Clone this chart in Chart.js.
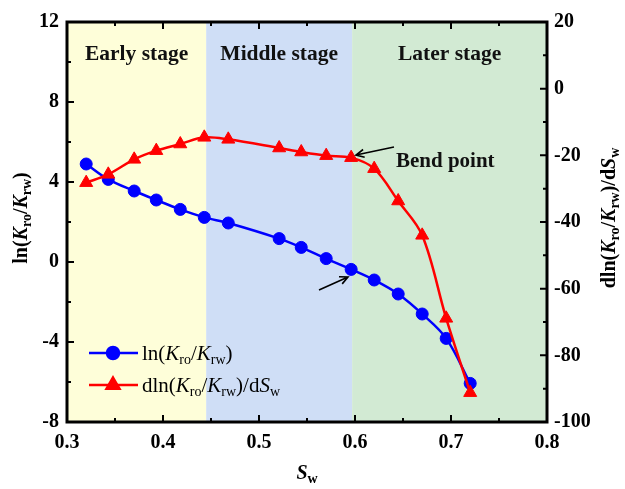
<!DOCTYPE html>
<html lang="en">
<head>
  <meta charset="UTF-8">
  <title>ln(Kro/Krw) vs Sw</title>
  <script src="https://cdn.jsdelivr.net/npm/chart.js"></script>
  <style>
    body { margin: 0; background: #fff; }
    #wrap { width: 625px; height: 489px; }
  </style>
</head>
<body>
  <div id="wrap"><canvas id="chartKr" width="625" height="489"></canvas></div>
  <script>
    // water saturation for each measured point
    const sw = [0.320, 0.343, 0.370, 0.393, 0.418, 0.443, 0.468, 0.521, 0.544, 0.570, 0.596, 0.620, 0.645, 0.670, 0.695, 0.720];
    // ln(Kro/Krw), left axis
    const lnRatio = [4.90, 4.13, 3.55, 3.10, 2.63, 2.23, 1.95, 1.17, 0.73, 0.17, -0.37, -0.90, -1.60, -2.60, -3.82, -6.07];
    // dln(Kro/Krw)/dSw, right axis
    const dlnRatio = [-28.2, -25.7, -21.2, -18.6, -16.6, -14.6, -15.2, -17.8, -19.0, -20.1, -20.7, -24.0, -33.7, -44.0, -68.9, -91.2];

    // stage bands along Sw
    const stageEdges = [0.3, 0.445, 0.597, 0.8];
    const stageNames = ['Early stage', 'Middle stage', 'Later stage'];
    const stageColors = ['#fefed9', '#cfdef6', '#d2ead3'];

    const serif = '"Liberation Serif", "Times New Roman", serif';

    // draws text made of pieces (italic letters, subscripts) centred or left-aligned
    function richText(ctx, parts, x, y, size, bold, angle, align) {
      const fontOf = p => (bold ? 'bold ' : '') + (p.i ? 'italic ' : '') +
        (p.sub ? Math.round(size * 0.68) : size) + 'px ' + serif;
      let total = 0;
      parts.forEach(p => { ctx.font = fontOf(p); p.w = ctx.measureText(p.t).width; total += p.w; });
      ctx.save();
      ctx.translate(x, y);
      ctx.rotate(angle || 0);
      ctx.fillStyle = '#000';
      ctx.textBaseline = 'middle';
      ctx.textAlign = 'left';
      let cx = align === 'left' ? 0 : -total / 2;
      parts.forEach(p => {
        ctx.font = fontOf(p);
        ctx.fillText(p.t, cx, p.sub ? size * 0.28 : 0);
        cx += p.w;
      });
      ctx.restore();
    }

    const lnLabel = [{t: 'ln('}, {t: 'K', i: true}, {t: 'ro', sub: true}, {t: '/'}, {t: 'K', i: true}, {t: 'rw', sub: true}, {t: ')'}];
    const dlnLabel = [{t: 'dln('}, {t: 'K', i: true}, {t: 'ro', sub: true}, {t: '/'}, {t: 'K', i: true}, {t: 'rw', sub: true}, {t: ')/d'}, {t: 'S', i: true}, {t: 'w', sub: true}];
    const swLabel = [{t: 'S', i: true}, {t: 'w', sub: true}];

    function arrow(ctx, x1, y1, x2, y2) {
      const a = Math.atan2(y2 - y1, x2 - x1);
      ctx.save();
      ctx.strokeStyle = '#000';
      ctx.lineWidth = 1.6;
      ctx.beginPath();
      ctx.moveTo(x1, y1);
      ctx.lineTo(x2, y2);
      ctx.moveTo(x2 - 9 * Math.cos(a - 0.45), y2 - 9 * Math.sin(a - 0.45));
      ctx.lineTo(x2, y2);
      ctx.lineTo(x2 - 9 * Math.cos(a + 0.45), y2 - 9 * Math.sin(a + 0.45));
      ctx.stroke();
      ctx.restore();
    }

    const decor = {
      id: 'decor',
      beforeDraw(chart) {
        const {ctx, chartArea: a, scales: {x}} = chart;
        ctx.save();
        ctx.fillStyle = '#fff';
        ctx.fillRect(0, 0, chart.width, chart.height);
        for (let i = 0; i < stageNames.length; i++) {
          const x0 = x.getPixelForValue(stageEdges[i]);
          const x1 = x.getPixelForValue(stageEdges[i + 1]);
          ctx.fillStyle = stageColors[i];
          ctx.fillRect(x0, a.top, x1 - x0, a.bottom - a.top);
        }
        ctx.font = 'bold 21.5px ' + serif;
        ctx.fillStyle = '#111';
        ctx.textAlign = 'center';
        ctx.textBaseline = 'alphabetic';
        for (let i = 0; i < stageNames.length; i++) {
          const mid = (x.getPixelForValue(stageEdges[i]) + x.getPixelForValue(stageEdges[i + 1])) / 2;
          ctx.fillText(stageNames[i], mid, a.top + 38);
        }
        ctx.restore();
      },
      afterDraw(chart) {
        const {ctx, chartArea: a, scales: {x, y, y2}} = chart;
        ctx.save();
        ctx.strokeStyle = '#000';
        // inward ticks
        ctx.lineWidth = 2;
        ctx.beginPath();
        for (let v = 0.3; v <= 0.8001; v += 0.05) {
          const px = x.getPixelForValue(v);
          const len = Math.abs(Math.round(v * 100) % 10) < 0.5 ? 7 : 4;
          ctx.moveTo(px, a.bottom); ctx.lineTo(px, a.bottom - len);
          ctx.moveTo(px, a.top); ctx.lineTo(px, a.top + len);
        }
        for (let v = -8; v <= 12; v += 2) {
          const py = y.getPixelForValue(v);
          ctx.moveTo(a.left, py); ctx.lineTo(a.left + (v % 4 === 0 ? 7 : 4), py);
        }
        for (let v = -100; v <= 20; v += 10) {
          const py = y2.getPixelForValue(v);
          ctx.moveTo(a.right, py); ctx.lineTo(a.right - (v % 20 === 0 ? 7 : 4), py);
        }
        ctx.stroke();
        // frame
        ctx.lineWidth = 3;
        ctx.strokeRect(a.left, a.top, a.right - a.left, a.bottom - a.top);
        ctx.restore();

        // axis titles
        richText(ctx, lnLabel, 22, (a.top + a.bottom) / 2 - 4, 20, true, -Math.PI / 2);
        richText(ctx, dlnLabel, 610, (a.top + a.bottom) / 2 - 4, 20, true, -Math.PI / 2);
        richText(ctx, swLabel, (a.left + a.right) / 2, 474, 20, true, 0);

        // bend point note and arrows
        ctx.save();
        ctx.font = 'bold 21px ' + serif;
        ctx.fillStyle = '#111';
        ctx.textBaseline = 'alphabetic';
        ctx.fillText('Bend point', x.getPixelForValue(0.6427), y.getPixelForValue(4.75));
        ctx.restore();
        arrow(ctx, x.getPixelForValue(0.6406), y.getPixelForValue(5.75), x.getPixelForValue(0.601), y.getPixelForValue(5.35));
        arrow(ctx, x.getPixelForValue(0.5625), y.getPixelForValue(-1.4), x.getPixelForValue(0.5927), y.getPixelForValue(-0.75));

        // legend
        const rows = [
          {color: '#0000ff', style: 'circle', r: 6, label: lnLabel, yy: a.bottom - 69},
          {color: '#ff0000', style: 'triangle', r: 7.5, label: dlnLabel, yy: a.bottom - 37}
        ];
        rows.forEach(row => {
          ctx.save();
          ctx.strokeStyle = row.color;
          ctx.lineWidth = 2.5;
          ctx.beginPath();
          ctx.moveTo(a.left + 22, row.yy);
          ctx.lineTo(a.left + 71, row.yy);
          ctx.stroke();
          ctx.fillStyle = row.color;
          Chart.helpers.drawPoint(ctx, {pointStyle: row.style, radius: row.r, borderWidth: 1}, a.left + 46, row.yy);
          ctx.fill();
          ctx.restore();
          richText(ctx, row.label, a.left + 75, row.yy + 1, 21, false, 0, 'left');
        });
      }
    };

    const tickFont = {family: serif, size: 20, weight: 'bold'};
    const noGrid = {display: false, drawTicks: false};

    new Chart(document.getElementById('chartKr'), {
      type: 'line',
      data: {
        datasets: [
          {
            label: 'dln(Kro/Krw)/dSw',
            data: sw.map((s, i) => ({x: s, y: dlnRatio[i]})),
            yAxisID: 'y2',
            borderColor: '#ff0000',
            backgroundColor: '#ff0000',
            borderWidth: 2.5,
            pointStyle: 'triangle',
            pointRadius: 7.5,
            pointBorderWidth: 1,
            tension: 0.35,
            order: 0
          },
          {
            label: 'ln(Kro/Krw)',
            data: sw.map((s, i) => ({x: s, y: lnRatio[i]})),
            yAxisID: 'y',
            borderColor: '#0000ff',
            backgroundColor: '#0000ff',
            borderWidth: 2.5,
            pointStyle: 'circle',
            pointRadius: 6,
            pointBorderWidth: 1,
            tension: 0.35,
            order: 1
          }
        ]
      },
      options: {
        responsive: false,
        animation: false,
        layout: {padding: {top: 22, left: 0, right: 0, bottom: 0}},
        plugins: {legend: {display: false}, tooltip: {enabled: false}},
        scales: {
          x: {
            type: 'linear', min: 0.3, max: 0.8,
            grid: noGrid, border: {display: false},
            ticks: {stepSize: 0.1, color: '#000', font: tickFont, padding: 9, maxRotation: 0, autoSkip: false,
                    callback: v => v.toFixed(1)},
            afterFit: s => { s.height = 67; }
          },
          y: {
            position: 'left', min: -8, max: 12,
            grid: noGrid, border: {display: false},
            ticks: {stepSize: 4, color: '#000', font: tickFont, padding: 8},
            afterFit: s => { s.width = 67; }
          },
          y2: {
            position: 'right', min: -100, max: 20,
            grid: noGrid, border: {display: false},
            ticks: {stepSize: 20, color: '#000', font: tickFont, padding: 7},
            afterFit: s => { s.width = 78; }
          }
        }
      },
      plugins: [decor]
    });
  </script>
</body>
</html>
